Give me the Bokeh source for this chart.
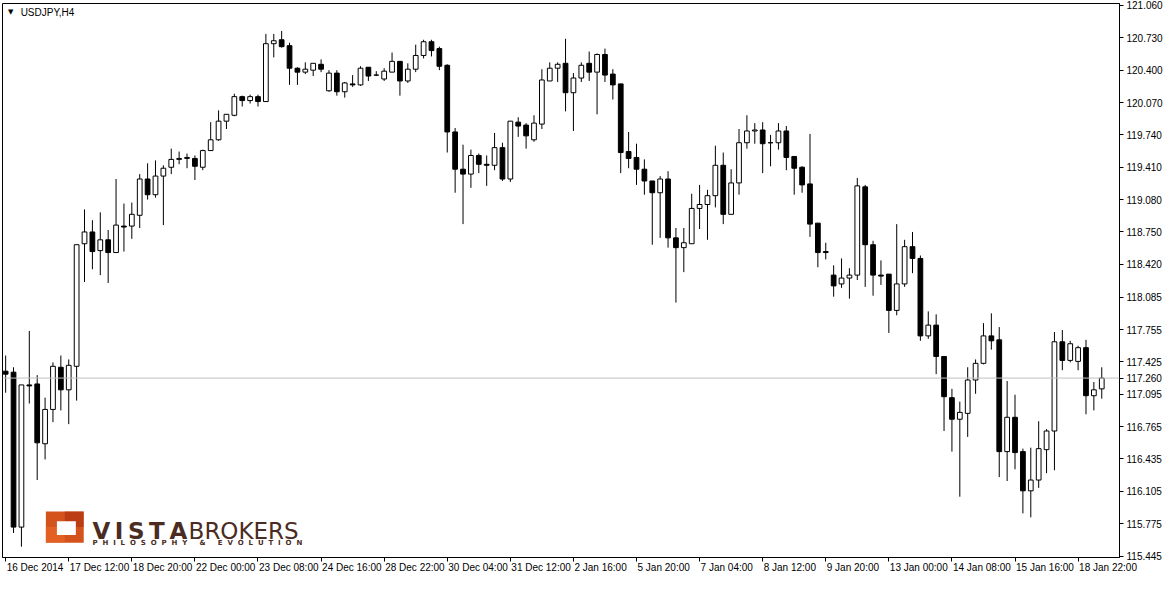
from bokeh.plotting import figure
from bokeh.models import (Range1d, FixedTicker, Span, Label, BoxAnnotation, ColumnDataSource,
                          PrintfTickFormatter, LinearAxis)
from bokeh.embed import file_html
from bokeh.resources import INLINE

symbol = "USDJPY,H4"
last_price = 117.26

open_ = [117.33, 117.32, 115.74, 117.19, 117.20, 116.59, 116.94, 117.37, 117.14, 117.38,
         118.63, 118.75, 118.56, 118.67, 118.54, 118.81, 118.81, 118.92, 119.29, 119.13,
         119.32, 119.41, 119.49, 119.50, 119.50, 119.41, 119.58, 119.69, 119.88, 119.94,
         120.13, 120.09, 120.13, 120.08, 120.67, 120.71, 120.65, 120.42, 120.38, 120.40,
         120.46, 120.19, 120.37, 120.18, 120.26, 120.25, 120.43, 120.35, 120.31, 120.38,
         120.49, 120.29, 120.41, 120.55, 120.69, 120.62, 120.45, 119.77, 119.39, 119.34,
         119.53, 119.44, 119.43, 119.61, 119.29, 119.87, 119.84, 119.69, 119.85, 120.29,
         120.42, 120.47, 120.17, 120.32, 120.47, 120.38, 120.56, 120.36, 120.26, 119.57,
         119.51, 119.39, 119.27, 119.15, 119.29, 118.69, 118.59, 118.63, 118.99, 119.03,
         119.12, 119.43, 118.93, 119.25, 119.66, 119.78, 119.79, 119.66, 119.66, 119.78,
         119.52, 119.41, 119.24, 118.84, 118.55, 118.31, 118.22, 118.28, 118.31, 119.21,
         118.62, 118.31, 118.32, 117.95, 118.22, 118.60, 118.48, 117.69, 117.80, 117.48,
         117.06, 116.84, 116.90, 117.24, 117.41, 117.69, 117.65, 116.51, 116.86, 116.51,
         116.11, 116.22, 116.53, 116.72, 117.63, 117.44, 117.43, 117.57, 117.08, 117.15]
high = [117.49, 117.37, 117.19, 117.74, 117.29, 117.06, 117.42, 117.49, 117.45, 118.62,
        118.98, 118.87, 118.95, 118.77, 119.29, 119.04, 119.05, 119.34, 119.45, 119.48,
        119.43, 119.60, 119.57, 119.55, 119.53, 119.59, 119.87, 119.99, 119.95, 120.16,
        120.14, 120.15, 120.15, 120.77, 120.77, 120.80, 120.68, 120.43, 120.48, 120.47,
        120.51, 120.40, 120.40, 120.28, 120.35, 120.44, 120.43, 120.39, 120.42, 120.58,
        120.49, 120.47, 120.66, 120.71, 120.71, 120.64, 120.46, 119.81, 119.64, 119.59,
        119.55, 119.53, 119.76, 119.66, 119.88, 119.92, 119.86, 119.94, 120.41, 120.48,
        120.48, 120.72, 120.37, 120.48, 120.59, 120.57, 120.62, 120.41, 120.26, 119.77,
        119.65, 119.49, 119.27, 119.32, 119.37, 118.79, 118.79, 119.14, 119.23, 119.18,
        119.63, 119.56, 119.39, 119.80, 119.94, 119.86, 119.87, 119.74, 119.86, 119.83,
        119.52, 119.42, 119.75, 118.84, 118.64, 118.41, 118.48, 118.38, 119.30, 119.23,
        118.66, 118.46, 118.32, 118.83, 118.67, 118.75, 118.51, 117.94, 117.91, 117.48,
        117.15, 117.02, 117.37, 117.45, 117.82, 117.92, 117.78, 117.23, 117.09, 116.54,
        116.55, 116.82, 116.74, 117.73, 117.75, 117.64, 117.59, 117.65, 117.22, 117.37]
low = [117.11, 115.68, 115.54, 117.00, 116.22, 116.43, 116.81, 116.93, 116.79, 117.03,
       118.24, 118.37, 118.31, 118.23, 118.54, 118.55, 118.68, 118.79, 119.08, 119.10,
       118.82, 119.34, 119.44, 119.40, 119.28, 119.38, 119.58, 119.68, 119.80, 119.93,
       120.03, 120.06, 120.03, 120.08, 120.53, 120.63, 120.25, 120.25, 120.36, 120.34,
       120.38, 120.18, 120.14, 120.12, 120.23, 120.24, 120.29, 120.34, 120.29, 120.38,
       120.14, 120.27, 120.38, 120.52, 120.54, 120.40, 119.56, 119.15, 118.83, 119.20,
       119.35, 119.22, 119.38, 119.27, 119.26, 119.72, 119.60, 119.67, 119.80, 120.29,
       120.28, 119.98, 119.78, 120.28, 120.29, 119.95, 120.28, 120.10, 119.35, 119.40,
       119.23, 119.13, 118.62, 118.69, 118.59, 118.03, 118.34, 118.63, 118.78, 118.67,
       119.00, 118.83, 118.93, 119.13, 119.60, 119.65, 119.35, 119.42, 119.59, 119.38,
       119.13, 119.15, 118.70, 118.39, 118.47, 118.09, 118.18, 118.07, 118.26, 118.19,
       118.10, 118.21, 117.72, 117.90, 118.19, 118.33, 117.64, 117.66, 117.30, 116.72,
       116.51, 116.05, 116.66, 117.10, 117.40, 117.55, 116.25, 116.21, 116.33, 115.88,
       115.84, 116.14, 116.29, 116.32, 117.34, 117.42, 117.34, 116.89, 116.93, 117.05]
close = [117.30, 115.74, 117.19, 117.18, 116.60, 116.94, 117.38, 117.14, 117.39, 118.62,
         118.75, 118.55, 118.67, 118.54, 118.82, 118.80, 118.93, 119.29, 119.13, 119.32,
         119.40, 119.49, 119.50, 119.51, 119.42, 119.58, 119.69, 119.88, 119.95, 120.13,
         120.09, 120.13, 120.08, 120.67, 120.70, 120.64, 120.42, 120.38, 120.41, 120.47,
         120.41, 120.37, 120.18, 120.27, 120.25, 120.42, 120.34, 120.35, 120.39, 120.49,
         120.29, 120.41, 120.55, 120.69, 120.60, 120.44, 119.77, 119.39, 119.34, 119.53,
         119.44, 119.43, 119.61, 119.29, 119.88, 119.83, 119.73, 119.86, 120.30, 120.42,
         120.46, 120.17, 120.32, 120.45, 120.38, 120.56, 120.35, 120.25, 119.56, 119.50,
         119.39, 119.27, 119.15, 119.29, 118.69, 118.59, 118.64, 118.99, 119.03, 119.12,
         119.43, 118.93, 119.25, 119.66, 119.78, 119.79, 119.65, 119.66, 119.78, 119.51,
         119.40, 119.23, 118.83, 118.54, 118.54, 118.20, 118.28, 118.31, 119.22, 118.62,
         118.31, 118.30, 117.95, 118.22, 118.60, 118.48, 117.69, 117.80, 117.48, 117.07,
         116.84, 116.91, 117.24, 117.41, 117.69, 117.64, 116.51, 116.86, 116.50, 116.11,
         116.22, 116.54, 116.72, 117.63, 117.44, 117.61, 117.57, 117.08, 117.14, 117.26]

time_labels = ["16 Dec 2014", "17 Dec 12:00", "18 Dec 20:00", "22 Dec 00:00", "23 Dec 08:00",
               "24 Dec 16:00", "28 Dec 22:00", "30 Dec 04:00", "31 Dec 12:00", "2 Jan 16:00",
               "5 Jan 20:00", "7 Jan 04:00", "8 Jan 12:00", "9 Jan 20:00", "13 Jan 00:00",
               "14 Jan 08:00", "15 Jan 16:00", "18 Jan 22:00"]
bars_per_label = 8
price_ticks = [121.060, 120.730, 120.400, 120.070, 119.740, 119.410, 119.080, 118.750, 118.420,
               118.085, 117.755, 117.425, 117.095, 116.765, 116.435, 116.105, 115.775, 115.445]

n = len(close)
xs = list(range(n))
src = ColumnDataSource(dict(
    x=xs, high=high, low=low,
    top=[max(o, c) for o, c in zip(open_, close)],
    bottom=[min(o, c) for o, c in zip(open_, close)],
    fill=["white" if c >= o else "black" for o, c in zip(open_, close)],
))

FONT = "Liberation Sans"
W, H = 1165, 575
X0, X1 = -0.4, n + 1.25
Y0, Y1 = 115.43, 121.08

p = figure(width=W, height=H, output_backend="svg", toolbar_location=None,
           x_range=Range1d(X0, X1), y_range=Range1d(Y0, Y1),
           y_axis_location="right")
p.background_fill_color = "white"
p.border_fill_color = "white"
p.outline_line_color = "black"
p.outline_line_width = 1
p.min_border_left = 2
p.min_border_top = 3
p.min_border_right = 0
p.min_border_bottom = 0
p.xgrid.visible = False
p.ygrid.visible = False

p.add_layout(Span(location=last_price, dimension="width", line_color="#c0c0c0", line_width=1))

p.segment(x0="x", y0="low", x1="x", y1="high", source=src, line_color="black", line_width=1)
p.vbar(x="x", width=0.6, top="top", bottom="bottom", source=src,
       fill_color="fill", line_color="black", line_width=1)

# price axis (with the current price shown on the scale)
tag_text = "%.3f" % last_price
p.yaxis.ticker = FixedTicker(ticks=price_ticks + [last_price])
p.yaxis.formatter = PrintfTickFormatter(format="%.3f")
p.yaxis.major_label_overrides = {last_price: tag_text}
p.yaxis.minor_tick_line_color = None
p.yaxis.major_tick_in = 0
p.yaxis.major_tick_out = 4
p.yaxis.major_label_standoff = 3
p.yaxis.axis_line_color = "black"
p.yaxis.major_label_text_font = FONT
p.yaxis.major_label_text_font_size = "10px"
p.yaxis.major_label_text_color = "black"

# time axis: tick marks on the main axis, left-aligned labels on a second axis
xt = [i * bars_per_label for i in range(len(time_labels))]
p.xaxis.ticker = FixedTicker(ticks=xt)
p.xaxis.major_label_overrides = {t: "" for t in xt}
p.xaxis.major_label_text_font_size = "0px"
p.xaxis.major_label_standoff = 0
p.xaxis.minor_tick_line_color = None
p.xaxis.major_tick_in = 0
p.xaxis.major_tick_out = 4
p.xaxis.axis_line_color = "black"

char_w = {d: 5.56 for d in "0123456789"}
char_w.update({" ": 2.78, ":": 2.78, "D": 7.22, "e": 5.56, "c": 5.0, "J": 5.0, "a": 5.56, "n": 5.56})
frame_w = W - 2 - 47
px_per_bar = frame_w / (X1 - X0)
lab_x = [t + (sum(char_w.get(ch, 5.56) for ch in lab) / 2 + 1) / px_per_bar
         for t, lab in zip(xt, time_labels)]
ax2 = LinearAxis(ticker=FixedTicker(ticks=lab_x),
                 major_label_overrides={x: lab for x, lab in zip(lab_x, time_labels)})
ax2.axis_line_color = None
ax2.major_tick_line_color = None
ax2.minor_tick_line_color = None
ax2.major_tick_out = 0
ax2.major_tick_in = 0
ax2.major_label_standoff = 0
ax2.major_label_text_font = FONT
ax2.major_label_text_font_size = "10px"
ax2.major_label_text_color = "black"
p.add_layout(ax2, "below")

# symbol caption
p.add_layout(Label(x=0.3, y=120.99, text="\u25BC", text_baseline="middle",
                   text_font="DejaVu Sans", text_font_size="7px", text_color="black"))
p.add_layout(Label(x=1.9, y=120.99, text=symbol, text_baseline="middle",
                   text_font=FONT, text_font_size="10px", text_color="black"))

# logo watermark
p.add_layout(BoxAnnotation(left=5.1, right=9.9, bottom=115.58, top=115.90,
                           fill_color="#d4521c", fill_alpha=1.0, line_color=None))
p.add_layout(BoxAnnotation(left=5.1, right=7.5, bottom=115.58, top=115.74,
                           fill_color="#ec6a28", fill_alpha=0.6, line_color=None))
p.add_layout(BoxAnnotation(left=7.5, right=9.9, bottom=115.74, top=115.90,
                           fill_color="#a8300f", fill_alpha=0.6, line_color=None))
p.add_layout(BoxAnnotation(left=6.5, right=8.9, bottom=115.66, top=115.80,
                           fill_color="white", fill_alpha=1.0, line_color=None))
th = "\u2009"
p.add_layout(Label(x=11.0, y=115.705, text=th.join("VISTA"), text_font="DejaVu Sans",
                   text_font_style="bold", text_font_size="23px", text_color="#4a2c22",
                   text_baseline="alphabetic"))
p.add_layout(Label(x=23.2, y=115.705, text="BROKERS", text_font="DejaVu Sans",
                   text_font_size="23px", text_color="#4a2c22", text_baseline="alphabetic"))
nb = "\u00A0"
tag = (nb * 2).join("PHILOSOPHY") + nb * 5 + "&" + nb * 5 + (nb * 2).join("EVOLUTION")
p.add_layout(Label(x=11.0, y=115.58, text=tag, text_font="DejaVu Sans",
                   text_font_style="bold", text_font_size="7px", text_color="#4a2c22",
                   text_baseline="alphabetic"))

open("out.html", "w").write(file_html(p, INLINE))
